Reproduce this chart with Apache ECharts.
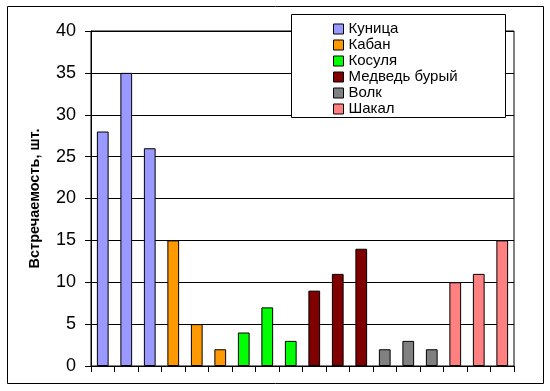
<!DOCTYPE html>
<html><head><meta charset="utf-8">
<script src="https://cdn.jsdelivr.net/npm/echarts@6/dist/echarts.min.js"></script>
<style>html,body{margin:0;padding:0;background:#fff}#c{width:550px;height:391px}</style>
</head><body><div id="c"></div>
<script>
const seriesNames = ['Куница','Кабан','Косуля','Медведь бурый','Волк','Шакал'];
const colors = ['#9999FF','#FF9900','#00FF00','#800000','#808080','#FF8080'];
const values = [
  [28,35,26],
  [15,5,2],
  [4,7,3],
  [9,11,14],
  [2,3,2],
  [10,11,15]
];
const yTicks = [0,5,10,15,20,25,30,35,40];
const categories = [];
for (let i = 0; i < 18; i++) categories.push(String(i+1));

const chart = echarts.init(document.getElementById('c'), null, {renderer:'canvas'});
const series = seriesNames.map((name, s) => {
  const data = categories.map(() => null);
  values[s].forEach((v, j) => { data[s*3 + j] = v; });
  return {
    name, type:'bar', stack:'all', data, barWidth:'50%',
    itemStyle:{color:colors[s], borderColor:'#000', borderWidth:1},
    emphasis:{disabled:true}
  };
});
chart.setOption({
  animation:false,
  color: colors,
  grid:{left:91, right:36, top:31, bottom:25, show:true, borderColor:'#000', borderWidth:1},
  xAxis:{type:'category', data:categories,
    axisLine:{lineStyle:{color:'#000'}},
    axisTick:{show:true, length:6, lineStyle:{color:'#000'}, alignWithLabel:false},
    axisLabel:{show:false}},
  yAxis:{type:'value', min:yTicks[0], max:yTicks[yTicks.length-1], interval:5,
    name:'Встречаемость, шт.', nameLocation:'middle', nameGap:49,
    nameTextStyle:{fontFamily:'Liberation Sans, Arial', fontWeight:'bold', fontSize:14.5, color:'#000'},
    axisLine:{show:true, lineStyle:{color:'#000'}},
    axisTick:{show:true, length:6, lineStyle:{color:'#000'}},
    axisLabel:{fontFamily:'Liberation Sans, Arial', fontSize:18, color:'#000', margin:15},
    splitLine:{lineStyle:{color:'#000'}}},
  legend:{orient:'vertical', left:333, top:21, padding:0, itemWidth:10, itemHeight:10, itemGap:0,
    icon:'rect', z:10,
    itemStyle:{borderColor:'#000', borderWidth:1},
    textStyle:{fontFamily:'Liberation Sans, Arial', fontSize:15, color:'#000', lineHeight:16},
    data: seriesNames},
  graphic:[
    {type:'rect', z:-1, silent:true, shape:{x:7.5, y:6.5, width:536, height:377}, style:{fill:'none', stroke:'#000', lineWidth:1}},
    {type:'rect', z:5, silent:true, shape:{x:291.5, y:14.5, width:214, height:103}, style:{fill:'#fff', stroke:'#000', lineWidth:1}}
  ],
  series
});
</script></body></html>
